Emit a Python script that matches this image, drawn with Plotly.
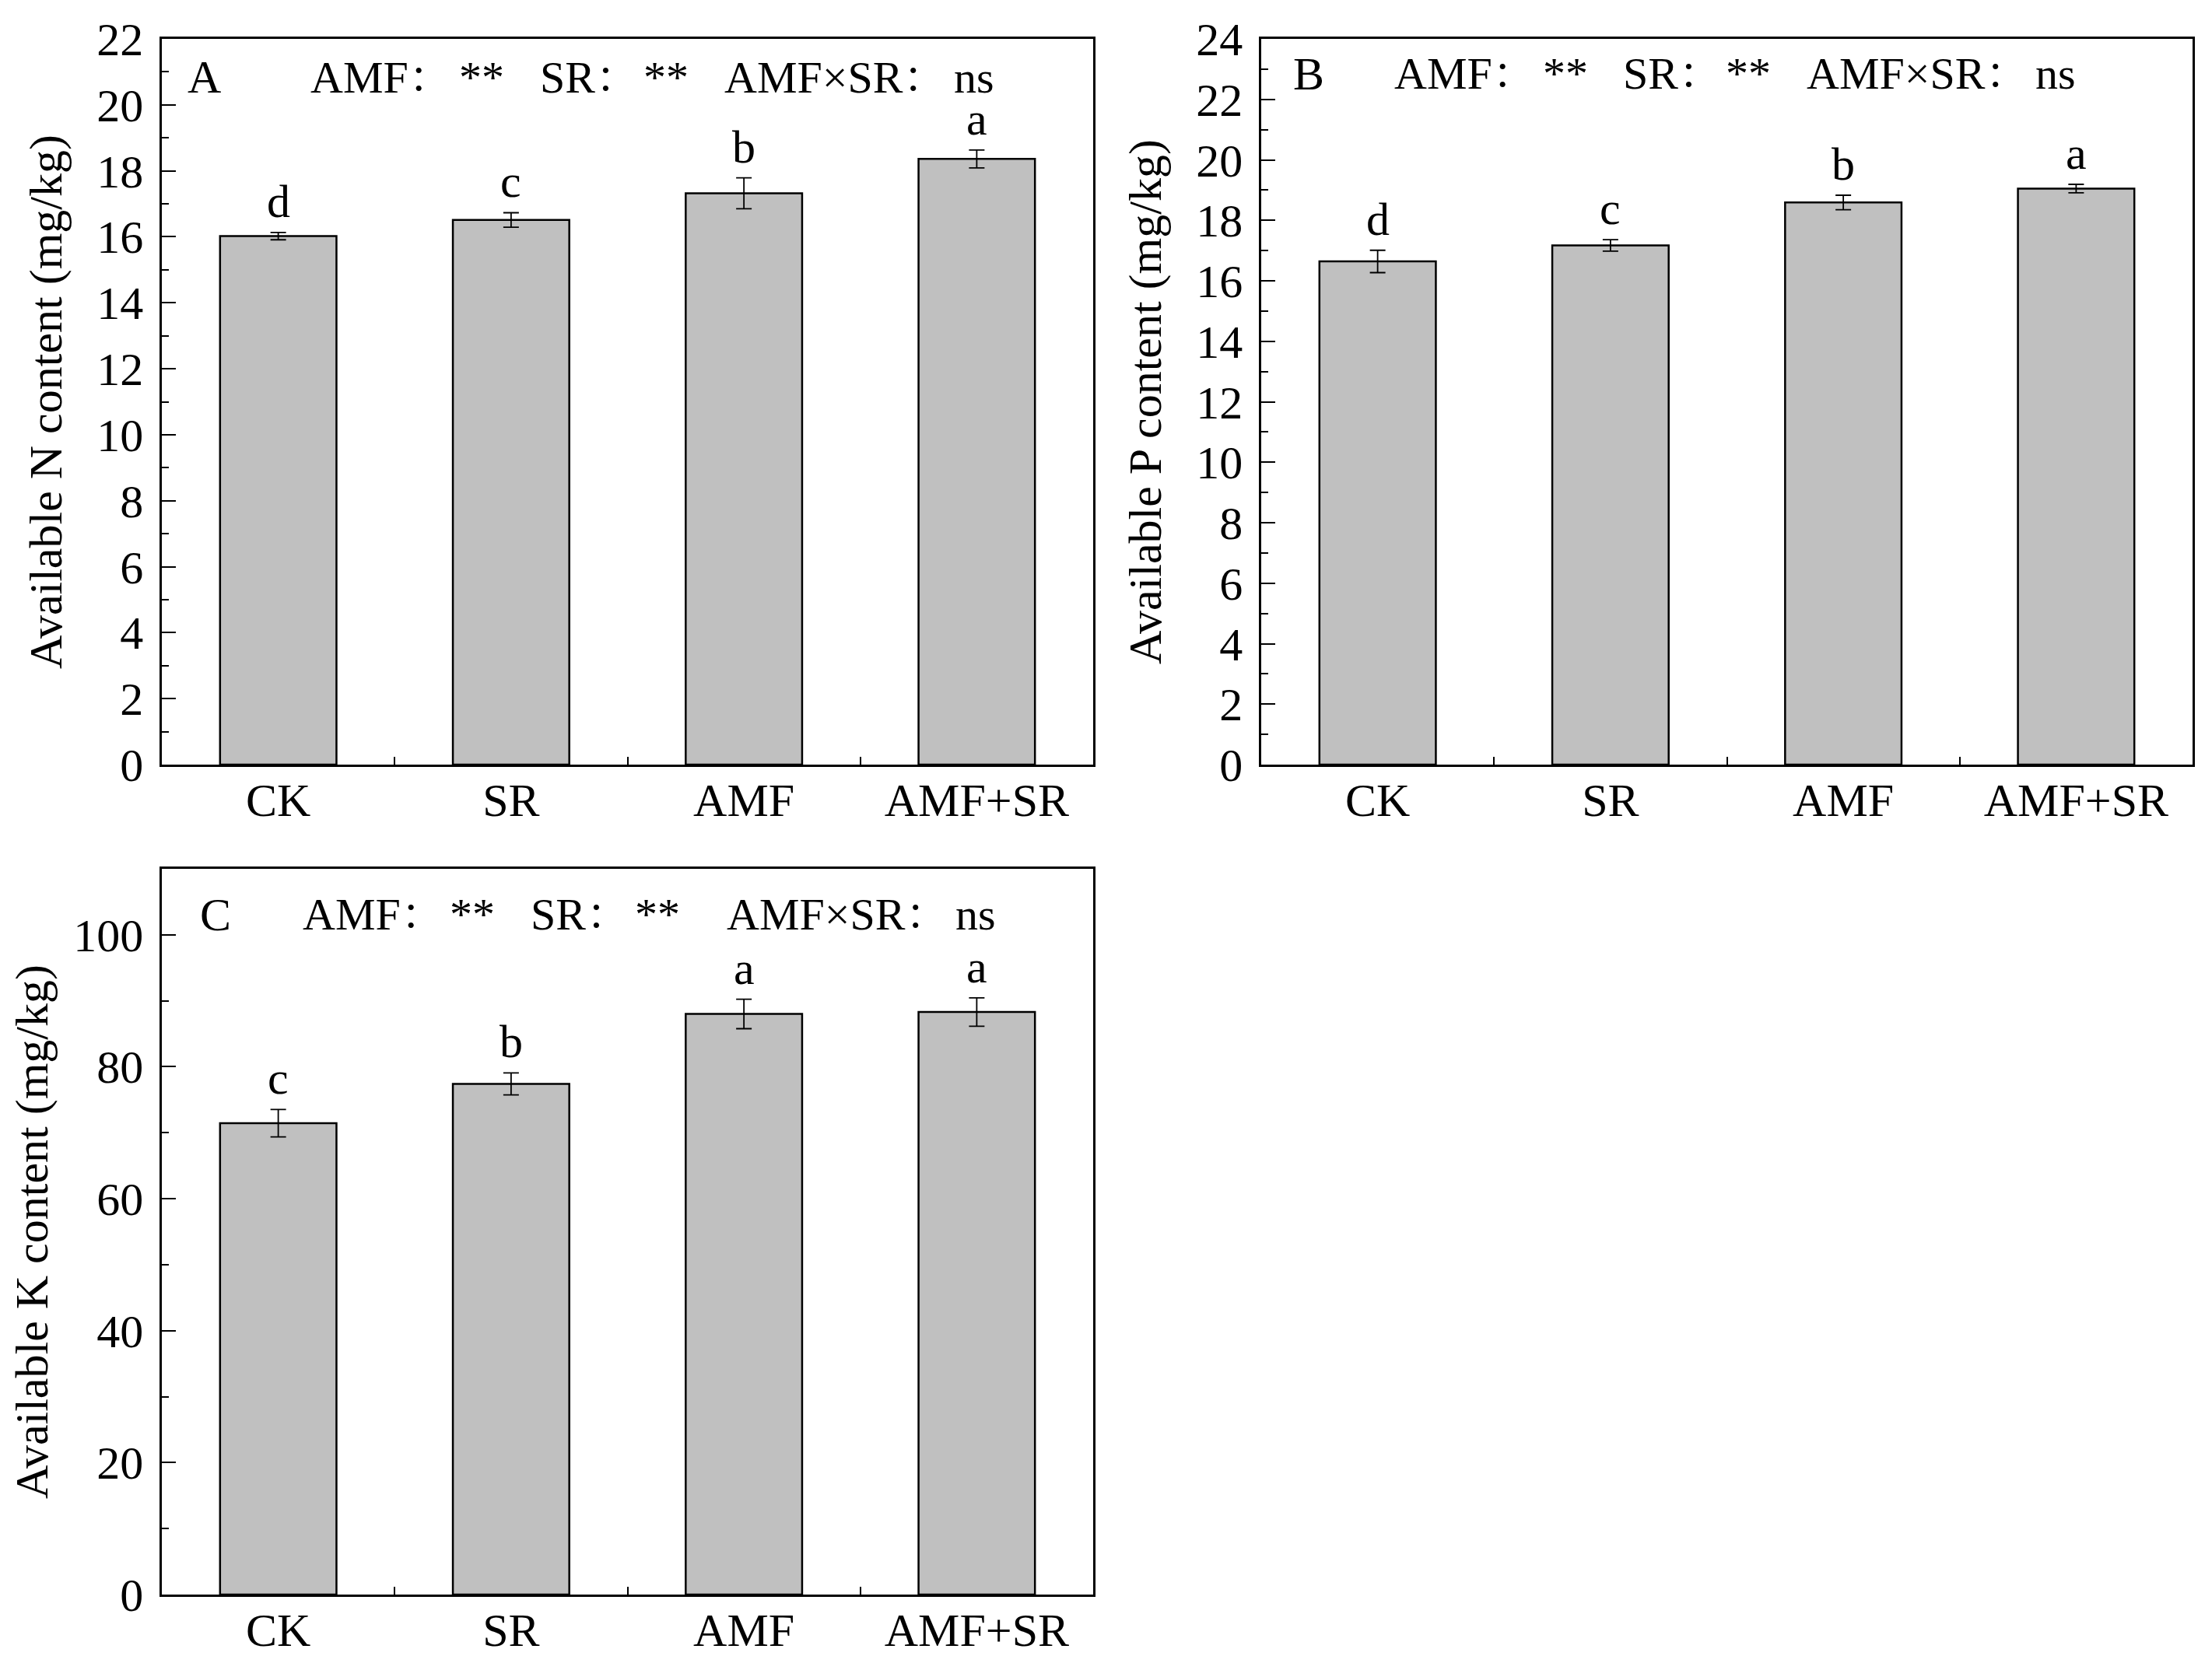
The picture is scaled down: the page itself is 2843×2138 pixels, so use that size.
import plotly.graph_objects as go

categories = ["CK", "SR", "AMF", "AMF+SR"]

n_mean = [16.02, 16.51, 17.32, 18.36]
n_err = [0.11, 0.22, 0.47, 0.27]
n_letters = ["d", "c", "b", "a"]

p_mean = [16.64, 17.17, 18.59, 19.05]
p_err = [0.37, 0.19, 0.24, 0.14]
p_letters = ["d", "c", "b", "a"]

k_mean = [71.45, 77.4, 88.0, 88.3]
k_err = [2.07, 1.66, 2.23, 2.15]
k_letters = ["c", "b", "a", "a"]

panel_tags = ["A", "B", "C"]
y_titles = ["Available N content (mg/kg)", "Available P content (mg/kg)",
            "Available K content (mg/kg)"]
stat_parts = ["AMF：", "**", "SR：", "**", "AMF×SR：", "ns"]

FONT = "Liberation Serif, Times New Roman, Noto Serif CJK SC, Noto Sans CJK SC"
W, H = 2843, 2138
OFF = 8  # the page body adds an 8px margin

fig = go.Figure()

panels = [
    (n_mean, n_err, n_letters, "x", "y", [0, 22], 2),
    (p_mean, p_err, p_letters, "x2", "y2", [0, 24], 2),
    (k_mean, k_err, k_letters, "x3", "y3", [0, 110], 20),
]


def xd(a, b):
    return [(a - OFF) / W, (b - OFF) / W]


def yd(top, bottom):
    return [1 - (bottom - OFF) / H, 1 - (top - OFF) / H]


xdom = [xd(208, 1405), xd(1621, 2818), xd(208, 1405)]
ydom = [yd(50, 983), yd(50, 983), yd(1117, 2050)]

# left edges of the stat text pieces (fraction of x domain)
tag_x = [0.027, 0.033, 0.040]
stat_x = [
    [0.159, 0.318, 0.405, 0.516, 0.603, 0.850],
    [0.142, 0.302, 0.388, 0.498, 0.585, 0.830],
    [0.150, 0.308, 0.395, 0.507, 0.606, 0.851],
]
stat_y = [0.947, 0.952, 0.937]

annotations = []
for i, (mean, err, letters, xa, ya, yr, dt) in enumerate(panels):
    fig.add_trace(go.Bar(
        x=categories, y=mean, xaxis=xa, yaxis=ya, width=0.5,
        marker=dict(color="#c0c0c0", line=dict(color="black", width=2.5)),
        error_y=dict(type="data", array=err, visible=True, color="black",
                     thickness=1.8, width=10),
        showlegend=False,
    ))
    for c, m, e, l in zip(categories, mean, err, letters):
        annotations.append(dict(
            x=c, y=m + e, xref=xa, yref=ya, text=l, showarrow=False,
            yanchor="bottom", yshift=6, borderpad=0,
            font=dict(family=FONT, size=60, color="black"),
        ))
    dxref = xa + " domain"
    dyref = ya + " domain"
    annotations.append(dict(
        x=tag_x[i], y=stat_y[i], xref=dxref, yref=dyref, text=panel_tags[i],
        showarrow=False, xanchor="left", yanchor="middle", borderpad=0,
        font=dict(family=FONT, size=60, color="black"),
    ))
    for px, part in zip(stat_x[i], stat_parts):
        annotations.append(dict(
            x=px, y=stat_y[i], xref=dxref, yref=dyref, text=part,
            showarrow=False, xanchor="left", yanchor="middle", borderpad=0,
            font=dict(family=FONT, size=58, color="black"),
        ))

    axis_n = "" if i == 0 else str(i + 1)
    fig.layout["xaxis" + axis_n] = dict(
        domain=xdom[i], anchor=ya, type="category", range=[-0.5, 3.5],
        tickson="boundaries", ticks="inside", ticklen=10, tickwidth=2,
        tickcolor="black", showline=True, linewidth=2.5, linecolor="black",
        mirror=True, showgrid=False, zeroline=False, ticklabelstandoff=-9,
        automargin=False,
        tickfont=dict(family=FONT, size=60, color="black"),
    )
    fig.layout["yaxis" + axis_n] = dict(
        domain=ydom[i], anchor=xa, range=yr, dtick=dt, tick0=0,
        ticks="inside", ticklen=18, tickwidth=2, tickcolor="black",
        minor=dict(ticks="inside", ticklen=9, tickwidth=2, tickcolor="black",
                   dtick=dt / 2, showgrid=False),
        showline=True, linewidth=2.5, linecolor="black", mirror=True,
        showgrid=False, zeroline=False, ticklabelstandoff=9, automargin=False,
        tickfont=dict(family=FONT, size=60, color="black"),
        title=dict(text=y_titles[i], font=dict(family=FONT, size=60, color="black"),
                   standoff=26),
    )

fig.update_layout(
    width=W, height=H, margin=dict(l=0, r=0, t=0, b=0, autoexpand=False),
    plot_bgcolor="white", paper_bgcolor="white",
    annotations=annotations, bargap=0.5,
)

fig.write_html("out.html")
